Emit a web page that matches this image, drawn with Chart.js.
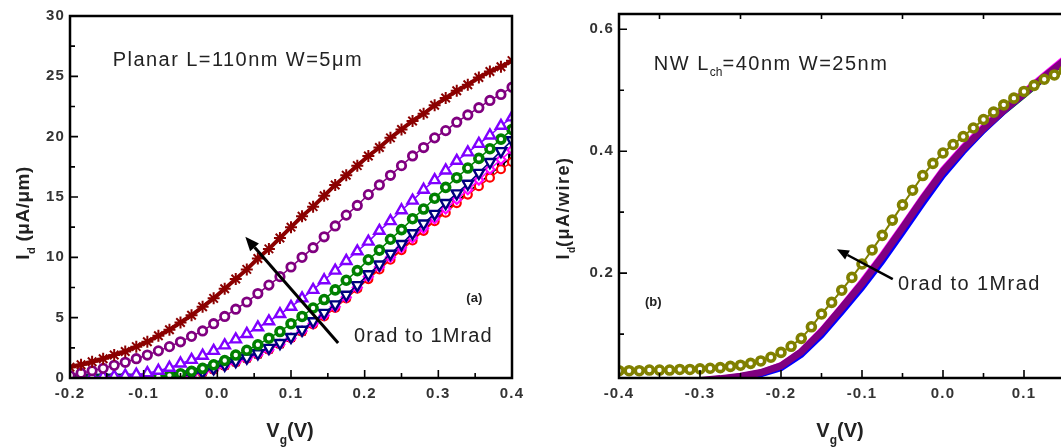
<!DOCTYPE html>
<html>
<head>
<meta charset="utf-8">
<title>Id-Vg after irradiation</title>
<script src="https://cdn.jsdelivr.net/npm/chart.js@4.4.1/dist/chart.umd.min.js"></script>
<style>
  html, body { margin: 0; padding: 0; background: #fff; width: 1061px; height: 447px; overflow: hidden; }
  .panel { position: absolute; top: 0; height: 447px; }
  #panelA { left: 0; width: 530px; }
  #panelB { left: 530px; width: 600px; }
</style>
</head>
<body>
<div class="panel" id="panelA"><canvas id="chartA"></canvas></div>
<div class="panel" id="panelB"><canvas id="chartB"></canvas></div>
<script>
// ============================================================
// 1. DATA
// ============================================================

// (a) planar device, Vg in V, Id in uA/um
const vgA = [-0.2, -0.185, -0.17, -0.155, -0.14, -0.125, -0.11, -0.095, -0.08, -0.065,
  -0.05, -0.035, -0.02, -0.005, 0.01, 0.025, 0.04, 0.055, 0.07, 0.085,
  0.1, 0.115, 0.13, 0.145, 0.16, 0.175, 0.19, 0.205, 0.22, 0.235,
  0.25, 0.265, 0.28, 0.295, 0.31, 0.325, 0.34, 0.355, 0.37, 0.385, 0.4];

const planarDarkRed = [0.9, 1.1, 1.35, 1.6, 1.9, 2.2, 2.6, 3.0, 3.5, 4.0,
  4.6, 5.2, 5.9, 6.6, 7.4, 8.2, 9.0, 9.9, 10.7, 11.6,
  12.5, 13.4, 14.2, 15.1, 16.0, 16.8, 17.6, 18.4, 19.1, 19.9,
  20.6, 21.3, 21.9, 22.6, 23.2, 23.8, 24.3, 24.9, 25.4, 25.8, 26.3];
const planarPurple = [0.2, 0.4, 0.6, 0.8, 1.05, 1.3, 1.6, 1.9, 2.25, 2.6,
  3.0, 3.45, 3.9, 4.5, 5.1, 5.7, 6.3, 7.0, 7.7, 8.4,
  9.2, 10.0, 10.8, 11.7, 12.6, 13.5, 14.3, 15.2, 16.0, 16.8,
  17.6, 18.4, 19.1, 19.9, 20.5, 21.2, 21.8, 22.4, 23.0, 23.5, 24.1];
const planarViolet = [0.02, 0.04, 0.07, 0.1, 0.14, 0.2, 0.28, 0.4, 0.6, 0.85,
  1.2, 1.5, 1.85, 2.25, 2.7, 3.2, 3.65, 4.2, 4.7, 5.3,
  5.9, 6.6, 7.3, 8.1, 8.9, 9.7, 10.5, 11.3, 12.2, 13.0,
  13.9, 14.7, 15.6, 16.4, 17.2, 18.0, 18.7, 19.4, 20.1, 20.9, 21.6];
const planarGreen = [0, 0, 0, 0.01, 0.02, 0.03, 0.05, 0.08, 0.13, 0.22,
  0.35, 0.55, 0.8, 1.1, 1.45, 1.9, 2.3, 2.75, 3.3, 3.85,
  4.5, 5.1, 5.8, 6.5, 7.3, 8.1, 8.9, 9.8, 10.6, 11.5,
  12.3, 13.2, 14.0, 14.9, 15.8, 16.6, 17.4, 18.2, 19.0, 19.8, 20.6];
const planarNavy = [0, 0, 0, 0, 0, 0, 0, 0.01, 0.03, 0.07,
  0.15, 0.3, 0.5, 0.8, 1.1, 1.4, 1.7, 2.05, 2.5, 2.9,
  3.4, 4.0, 4.7, 5.4, 6.1, 6.9, 7.7, 8.6, 9.4, 10.3,
  11.1, 12.0, 12.8, 13.6, 14.5, 15.3, 16.1, 17.0, 17.9, 18.8, 19.7];
const planarMagenta = [0, 0, 0, 0, 0, 0, 0, 0.01, 0.02, 0.05,
  0.12, 0.25, 0.45, 0.7, 1.0, 1.3, 1.6, 1.95, 2.35, 2.8,
  3.3, 3.9, 4.5, 5.2, 5.9, 6.7, 7.5, 8.4, 9.2, 10.0,
  10.8, 11.6, 12.4, 13.2, 14.0, 14.8, 15.6, 16.4, 17.3, 18.1, 18.9];
const planarBlack = [0, 0, 0, 0, 0, 0, 0, 0.01, 0.02, 0.05,
  0.12, 0.25, 0.45, 0.7, 1.0, 1.3, 1.6, 1.95, 2.35, 2.8,
  3.3, 3.85, 4.5, 5.15, 5.85, 6.65, 7.45, 8.3, 9.1, 9.9,
  10.7, 11.5, 12.3, 13.1, 13.9, 14.6, 15.4, 16.1, 16.9, 17.6, 18.3];
const planarRed = [0, 0, 0, 0, 0, 0, 0, 0.01, 0.02, 0.05,
  0.12, 0.25, 0.45, 0.7, 1.0, 1.3, 1.6, 1.95, 2.35, 2.8,
  3.3, 3.85, 4.45, 5.1, 5.8, 6.6, 7.4, 8.2, 9.0, 9.8,
  10.6, 11.4, 12.2, 13.0, 13.7, 14.5, 15.2, 15.9, 16.6, 17.3, 17.9];

// (b) nanowire device, Id in uA/wire
const vgB = [-0.4, -0.3875, -0.375, -0.3625, -0.35, -0.3375, -0.325, -0.3125, -0.3, -0.2875,
  -0.275, -0.2625, -0.25, -0.2375, -0.225, -0.2125, -0.2, -0.1875, -0.175, -0.1625,
  -0.15, -0.1375, -0.125, -0.1125, -0.1, -0.0875, -0.075, -0.0625, -0.05, -0.0375,
  -0.025, -0.0125, 0, 0.0125, 0.025, 0.0375, 0.05, 0.0625, 0.075, 0.0875,
  0.1, 0.1125, 0.125, 0.1375, 0.15, 0.1625, 0.175, 0.1875, 0.2];
const nwOlive = [0.040, 0.040, 0.040, 0.041, 0.041, 0.041, 0.042, 0.042, 0.043, 0.044,
  0.045, 0.047, 0.049, 0.052, 0.056, 0.062, 0.070, 0.080, 0.093, 0.112,
  0.133, 0.152, 0.172, 0.193, 0.215, 0.238, 0.262, 0.287, 0.312, 0.336,
  0.360, 0.380, 0.397, 0.411, 0.424, 0.438, 0.452, 0.464, 0.476, 0.487,
  0.498, 0.508, 0.518, 0.525, 0.532, 0.539, 0.545, 0.551, 0.557];

const vgBc = [-0.4, -0.375, -0.35, -0.325, -0.3, -0.275, -0.25, -0.225, -0.2, -0.175,
  -0.15, -0.125, -0.1, -0.075, -0.05, -0.025, 0, 0.025, 0.05, 0.075,
  0.1, 0.125, 0.15, 0.175, 0.2];
const nwPurple = [0.020, 0.020, 0.021, 0.022, 0.024, 0.027, 0.031, 0.037, 0.048, 0.071,
  0.104, 0.143, 0.183, 0.227, 0.274, 0.322, 0.367, 0.404, 0.437, 0.467,
  0.494, 0.522, 0.549, 0.571, 0.590];
const nwMagenta = [0.020, 0.020, 0.021, 0.022, 0.024, 0.027, 0.031, 0.037, 0.049, 0.072,
  0.106, 0.145, 0.186, 0.230, 0.277, 0.325, 0.370, 0.407, 0.440, 0.470,
  0.497, 0.525, 0.552, 0.574, 0.593];
const nwBlue = [0.019, 0.019, 0.020, 0.021, 0.023, 0.026, 0.029, 0.034, 0.044, 0.066,
  0.098, 0.136, 0.176, 0.219, 0.266, 0.314, 0.360, 0.399, 0.434, 0.465,
  0.493, 0.521, 0.550, 0.573, 0.592];
const nwGreen = [0.019, 0.019, 0.020, 0.021, 0.023, 0.026, 0.030, 0.035, 0.046, 0.068,
  0.100, 0.139, 0.179, 0.222, 0.269, 0.317, 0.362, 0.401, 0.435, 0.465,
  0.492, 0.520, 0.547, 0.569, 0.588];

// tick positions
const xTicksA = [-0.2, -0.1, 0, 0.1, 0.2, 0.3, 0.4];
const xMinorA = [-0.15, -0.05, 0.05, 0.15, 0.25, 0.35];
const yTicksA = [0, 5, 10, 15, 20, 25, 30];
const yMinorA = [2.5, 7.5, 12.5, 17.5, 22.5, 27.5];
const xTicksB = [-0.4, -0.3, -0.2, -0.1, 0, 0.1, 0.2];
const xMinorB = [-0.35, -0.25, -0.15, -0.05, 0.05, 0.15];
const yTicksB = [0.2, 0.4, 0.6];
const yMinorB = [0.1, 0.3, 0.5];

const FONT = "'Liberation Sans', Arial, sans-serif";
Chart.defaults.font.family = FONT;

// ============================================================
// 2. HELPERS
// ============================================================
function pts(xs, ys) {
    return xs.map((x, i) => ({ x: x, y: ys[i] }));
}

// symbols joined by a thin line of the same colour
function markers(xs, ys, color, style, radius, bw, extra) {
    return Object.assign({
        data: pts(xs, ys),
        pointStyle: style,
        pointRadius: radius,
        pointBorderWidth: bw,
        pointBorderColor: color,
        pointBackgroundColor: '#fff',
        borderColor: color,
        borderWidth: 1.5,
        showLine: true,
        clip: 0
    }, extra || {});
}

function band(xs, ys, color, width) {
    return { data: pts(xs, ys), borderColor: color, borderWidth: width, showLine: true, pointRadius: 0, clip: 0 };
}

// text made of runs, some of them subscripts
function runsWidth(ctx, runs, size, weight, spacing) {
    let w = 0;
    runs.forEach(r => {
        ctx.font = `${weight} ${r.sub ? Math.round(size * 0.58) : size}px ${FONT}`;
        ctx.letterSpacing = (r.sub ? 0 : spacing) + 'px';
        w += ctx.measureText(r.t).width;
    });
    return w;
}

function drawRuns(ctx, runs, x, y, size, weight, spacing) {
    ctx.textBaseline = 'alphabetic';
    ctx.textAlign = 'left';
    runs.forEach(r => {
        const s = r.sub ? Math.round(size * 0.58) : size;
        ctx.font = `${weight} ${s}px ${FONT}`;
        ctx.letterSpacing = (r.sub ? 0 : spacing) + 'px';
        ctx.fillText(r.t, x, y + (r.sub ? size * 0.33 : 0));
        x += ctx.measureText(r.t).width;
    });
}

function drawArrow(ctx, x1, y1, x2, y2, width, head) {
    const ang = Math.atan2(y2 - y1, x2 - x1);
    const bx = x2 - head * Math.cos(ang), by = y2 - head * Math.sin(ang);
    const half = head * 0.42;
    ctx.lineWidth = width;
    ctx.beginPath(); ctx.moveTo(x1, y1); ctx.lineTo(bx, by); ctx.stroke();
    ctx.beginPath();
    ctx.moveTo(x2, y2);
    ctx.lineTo(bx + half * Math.sin(ang), by - half * Math.cos(ang));
    ctx.lineTo(bx - half * Math.sin(ang), by + half * Math.cos(ang));
    ctx.closePath(); ctx.fill();
}

// ============================================================
// 3. PLUGINS: spaced tick text, box frame with inward ticks, labels and arrows
// ============================================================
const tickSpacing = {
    id: 'tickSpacing',
    beforeDraw(chart) { chart.ctx.letterSpacing = '1.2px'; }
};

const frameTicks = {
    id: 'frameTicks',
    afterDatasetsDraw(chart, args, o) {
        const { ctx, chartArea: a } = chart;
        const sx = chart.scales.x, sy = chart.scales.y;
        ctx.save();
        ctx.strokeStyle = '#000';
        ctx.lineWidth = 1.6;
        ctx.beginPath();
        const hor = (vals, len, atTop) => (vals || []).forEach(v => {
            const px = sx.getPixelForValue(v);
            if (px < a.left || px > a.right) return;
            const y0 = atTop ? a.top : a.bottom;
            ctx.moveTo(px, y0); ctx.lineTo(px, y0 + (atTop ? len : -len));
        });
        const ver = (vals, len) => (vals || []).forEach(v => {
            const py = sy.getPixelForValue(v);
            if (py < a.top || py > a.bottom) return;
            ctx.moveTo(a.left, py); ctx.lineTo(a.left + len, py);
        });
        hor(o.xMajor, 8, false);
        hor(o.xMinor, 5, false);
        hor(o.topTicks, 5, true);
        ver(o.yMajor, 8);
        ver(o.yMinor, 5);
        ctx.stroke();
        ctx.lineWidth = 2.5;
        ctx.strokeRect(a.left, a.top, a.right - a.left, a.bottom - a.top);
        ctx.restore();
    }
};

const figureText = {
    id: 'figureText',
    afterDatasetsDraw(chart, args, o) {
        const { ctx } = chart;
        const sx = chart.scales.x, sy = chart.scales.y;
        ctx.save();
        ctx.fillStyle = '#222';
        ctx.strokeStyle = '#000';
        (o.labels || []).forEach(l => {
            drawRuns(ctx, l.runs, sx.getPixelForValue(l.x), sy.getPixelForValue(l.y), l.size, l.weight || 'normal', l.spacing || 0);
        });
        if (o.arrow) {
            ctx.fillStyle = '#000';
            const ar = o.arrow;
            drawArrow(ctx, sx.getPixelForValue(ar.from[0]), sy.getPixelForValue(ar.from[1]),
                sx.getPixelForValue(ar.to[0]), sy.getPixelForValue(ar.to[1]), ar.width, ar.head);
        }
        // axis titles
        ctx.fillStyle = '#222';
        const xt = o.xTitle;
        const wx = runsWidth(ctx, xt.runs, xt.size, 'bold', 0);
        drawRuns(ctx, xt.runs, xt.cx - wx / 2, xt.base, xt.size, 'bold', 0);
        const yt = o.yTitle;
        const wy = runsWidth(ctx, yt.runs, yt.size, 'bold', yt.spacing);
        ctx.translate(yt.base, yt.cy);
        ctx.rotate(-Math.PI / 2);
        drawRuns(ctx, yt.runs, -wy / 2, 0, yt.size, 'bold', yt.spacing);
        ctx.restore();
    }
};

function linearAxis(min, max, values, fmt, pad, fit) {
    return {
        type: 'linear', min: min, max: max,
        grid: { display: false, drawTicks: false },
        border: { display: false },
        afterBuildTicks: s => { s.ticks = values.map(v => ({ value: v })); },
        afterFit: fit,
        ticks: { autoSkip: false, maxRotation: 0, padding: pad, color: '#333', font: { size: 15, weight: 'bold' }, callback: fmt }
    };
}

// ============================================================
// 4. PANEL (a) PLANAR
// ============================================================
new Chart(document.getElementById('chartA'), {
    type: 'scatter',
    data: {
        datasets: [
            markers(vgA, planarDarkRed, '#8b0000', 'star', 6, 2, { borderWidth: 4 }),
            markers(vgA, planarPurple, '#800080', 'circle', 4.2, 2.8),
            markers(vgA, planarViolet, '#8000ff', 'triangle', 6, 2.4),
            markers(vgA, planarGreen, '#008000', 'circle', 4, 3.6),
            markers(vgA, planarNavy, '#000080', 'triangle', 6, 2.4, { pointRotation: 180 }),
            markers(vgA, planarMagenta, '#ff00ff', 'rectRot', 4.5, 2.2),
            markers(vgA, planarRed, '#ff0000', 'circle', 4, 2.2),
            markers(vgA, planarBlack, '#000000', 'rect', 4, 2.2)
        ]
    },
    options: {
        responsive: true,
        maintainAspectRatio: false,
        animation: false,
        layout: { padding: { left: 0, top: 16, right: 18, bottom: 0 } },
        scales: {
            x: linearAxis(-0.2, 0.4, xTicksA, v => v.toFixed(1), 7, s => { s.height = 69; }),
            y: linearAxis(0, 30, yTicksA, v => String(v), 5, s => { s.width = 70; })
        },
        plugins: {
            legend: { display: false },
            tooltip: { enabled: false },
            frameTicks: { xMajor: xTicksA, xMinor: xMinorA, yMajor: yTicksA, yMinor: yMinorA },
            figureText: {
                labels: [
                    { x: -0.142, y: 25.85, size: 20, spacing: 1.45, runs: [{ t: 'Planar L=110nm W=5μm' }] },
                    { x: 0.1855, y: 2.98, size: 20, spacing: 1.1, runs: [{ t: '0rad to 1Mrad' }] },
                    { x: 0.338, y: 6.3, size: 13, weight: 'bold', runs: [{ t: '(a)' }] }
                ],
                arrow: { from: [0.164, 2.9], to: [0.038, 11.7], width: 3, head: 14 },
                xTitle: { cx: 290, base: 437, size: 20, runs: [{ t: 'V' }, { t: 'g', sub: true }, { t: '(V)' }] },
                yTitle: { base: 29, cy: 213, size: 19, spacing: 0.5, runs: [{ t: 'I' }, { t: 'd', sub: true }, { t: ' (μA/μm)' }] }
            }
        }
    },
    plugins: [tickSpacing, frameTicks, figureText]
});

// ============================================================
// 5. PANEL (b) NANOWIRE
// ============================================================
new Chart(document.getElementById('chartB'), {
    type: 'scatter',
    data: {
        datasets: [
            markers(vgB, nwOlive, '#808000', 'circle', 4, 3.6, { borderWidth: 2 }),
            band(vgBc, nwPurple, '#800080', 7),
            band(vgBc, nwMagenta, '#ff00ff', 6),
            band(vgBc, nwBlue, '#0000ff', 6),
            band(vgBc, nwGreen, '#008000', 6)
        ]
    },
    options: {
        responsive: true,
        maintainAspectRatio: false,
        animation: false,
        layout: { padding: { left: 0, top: 9, right: 25, bottom: 0 } },
        scales: {
            x: linearAxis(-0.4, 0.2, xTicksB, v => v.toFixed(1), 7, s => { s.height = 69; }),
            y: linearAxis(0.028, 0.625, yTicksB, v => v.toFixed(1), 5, s => { s.width = 89; })
        },
        plugins: {
            legend: { display: false },
            tooltip: { enabled: false },
            frameTicks: { xMajor: xTicksB, xMinor: xMinorB, yMajor: yTicksB, yMinor: yMinorB, topTicks: xMinorB },
            figureText: {
                labels: [
                    { x: -0.357, y: 0.5335, size: 20, spacing: 1.5, runs: [{ t: 'NW L' }, { t: 'ch', sub: true }, { t: '=40nm W=25nm' }] },
                    { x: -0.0556, y: 0.172, size: 20, spacing: 1.4, runs: [{ t: '0rad to 1Mrad' }] },
                    { x: -0.368, y: 0.146, size: 13, weight: 'bold', runs: [{ t: '(b)' }] }
                ],
                arrow: { from: [-0.062, 0.19], to: [-0.131, 0.239], width: 2.5, head: 12 },
                xTitle: { cx: 310, base: 437, size: 20, runs: [{ t: 'V' }, { t: 'g', sub: true }, { t: '(V)' }] },
                yTitle: { base: 39, cy: 208, size: 18, spacing: 1.5, runs: [{ t: 'I' }, { t: 'd', sub: true }, { t: '(μA/wire)' }] }
            }
        }
    },
    plugins: [tickSpacing, frameTicks, figureText]
});
</script>
</body>
</html>
